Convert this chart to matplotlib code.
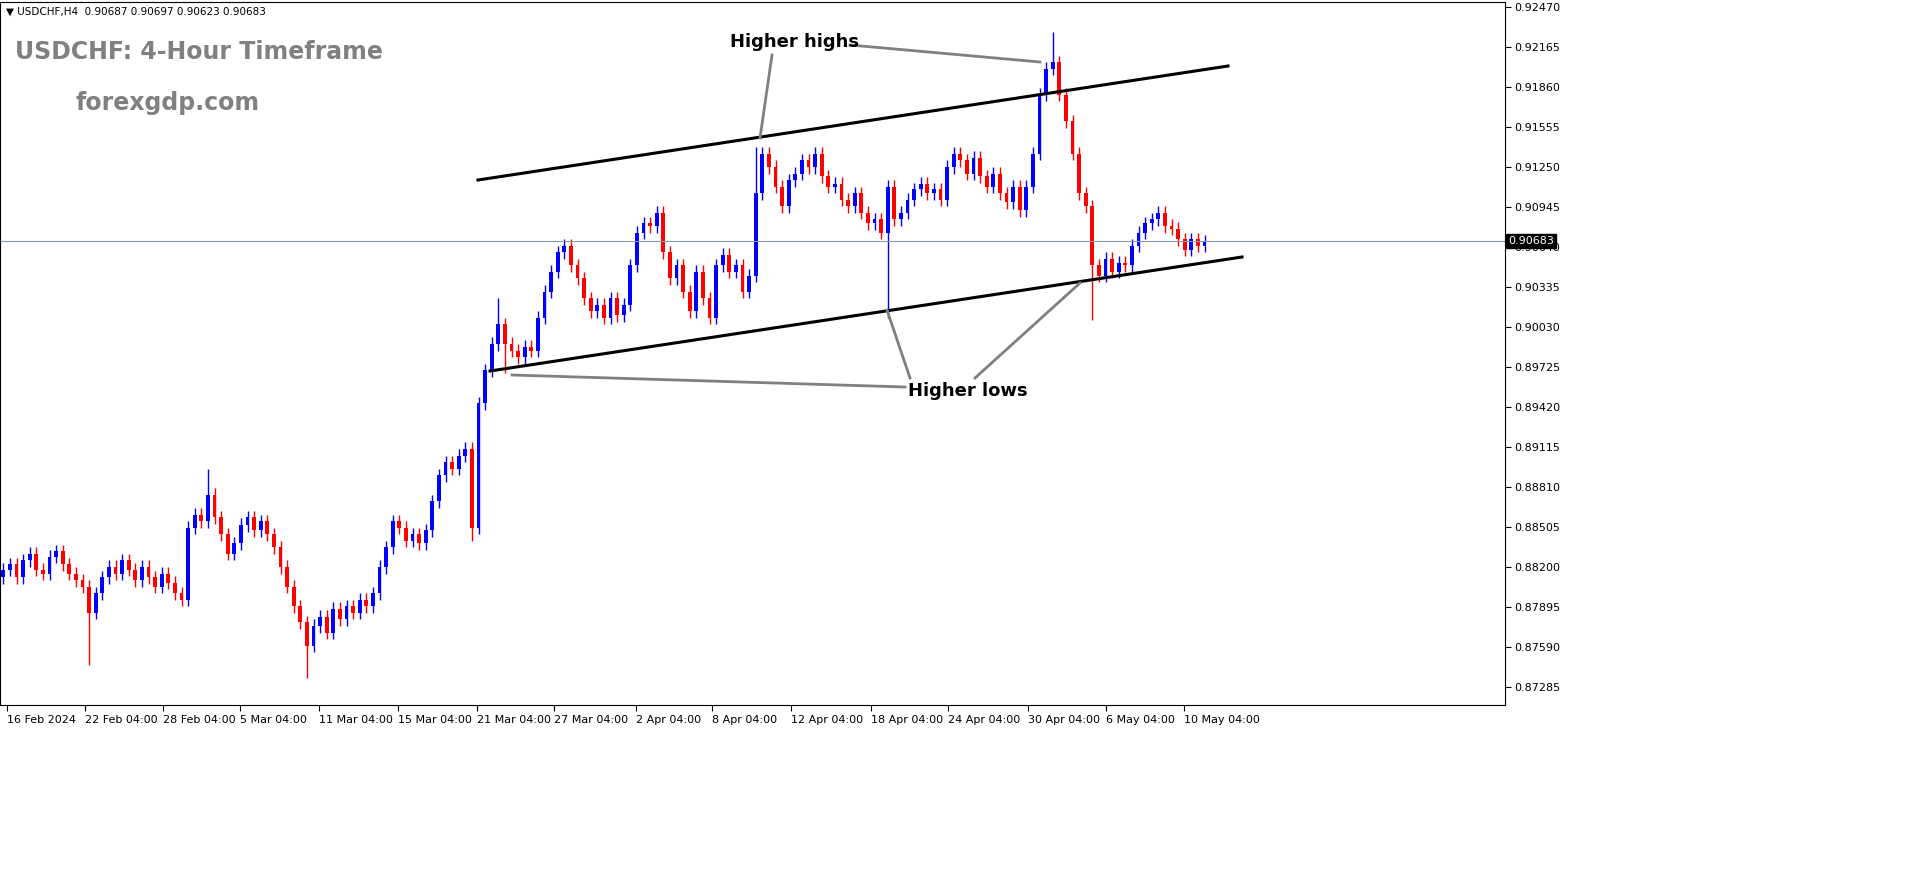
import matplotlib
matplotlib.use("Agg")
import matplotlib.pyplot as plt
from matplotlib.patches import Rectangle

closes = [0.8818,0.8822,0.8812,0.8825,0.8830,0.8818,0.8815,0.8828,0.8832,0.8822,0.8815,0.8810,0.8805,
0.8785,0.8800,
0.8812,0.8820,0.8815,0.8825,0.8818,0.8810,0.8820,0.8812,0.8805,0.8815,0.8808,0.8800,0.8795,
0.8850,0.8860,0.8855,0.8875,0.8858,
0.8845,0.8830,0.8838,
0.8852,0.8858,0.8848,0.8855,0.8845,
0.8835,0.8820,0.8805,0.8790,0.8778,0.8760,
0.8775,0.8782,0.8770,0.8788,0.8780,0.8790,0.8785,0.8795,0.8790,0.8800,
0.8820,0.8835,0.8855,
0.8850,0.8840,0.8845,0.8838,0.8848,
0.8870,0.8890,0.8900,
0.8895,0.8905,0.8910,
0.8850,
0.8945,0.8970,
0.8990,0.9005,
0.8990,0.8985,0.8980,0.8988,0.8985,
0.9010,0.9030,0.9045,0.9060,0.9065,
0.9050,0.9040,0.9025,
0.9015,0.9020,0.9010,0.9025,0.9012,0.9020,
0.9050,0.9075,0.9082,0.9080,0.9090,
0.9060,0.9040,0.9050,0.9030,0.9015,
0.9045,0.9025,0.9010,
0.9050,0.9058,0.9045,0.9050,0.9030,0.9042,
0.9105,0.9135,
0.9125,0.9110,0.9095,0.9115,0.9120,
0.9130,0.9125,0.9135,0.9118,0.9110,
0.9112,0.9100,0.9095,0.9105,0.9090,0.9082,
0.9085,0.9075,0.9110,
0.9085,0.9090,0.9100,0.9108,0.9112,0.9105,0.9108,
0.9100,0.9125,0.9135,0.9130,0.9120,0.9132,0.9118,0.9110,0.9120,
0.9105,0.9098,0.9110,0.9092,
0.9110,0.9135,0.9180,0.9200,0.9205,
0.9180,0.9160,0.9135,0.9105,0.9095,
0.9050,0.9042,0.9055,
0.9045,0.9052,0.9050,0.9065,
0.9075,0.9082,0.9085,0.9090,0.9080,
0.9078,0.9070,0.9062,0.9070,0.9065,0.9068]
first_open = 0.8812
wick = 0.0005
low_spikes = {13: 0.8745, 46: 0.8735, 71: 0.8840, 134: 0.9010, 165: 0.9008, 76: 0.8968}
high_spikes = {31: 0.8895, 159: 0.9228, 75: 0.9025, 114: 0.9140}

price_ticks = [0.92470,0.92165,0.91860,0.91555,0.91250,0.90945,0.90640,0.90335,0.90030,
               0.89725,0.89420,0.89115,0.88810,0.88505,0.88200,0.87895,0.87590,0.87285]
date_labels = ["16 Feb 2024","22 Feb 04:00","28 Feb 04:00","5 Mar 04:00","11 Mar 04:00",
               "15 Mar 04:00","21 Mar 04:00","27 Mar 04:00","2 Apr 04:00","8 Apr 04:00",
               "12 Apr 04:00","18 Apr 04:00","24 Apr 04:00","30 Apr 04:00","6 May 04:00","10 May 04:00"]
date_pos = [0.6,12.4,24.2,35.9,47.9,59.8,71.7,83.5,95.8,107.4,119.4,131.4,143.2,155.2,167.1,178.9]
last_price = 0.90683

W, H = 1914, 884
fig = plt.figure(figsize=(W/100, H/100), dpi=100)
ax = fig.add_axes([0, (884-705)/H, 1505/W, 703/H])
PX = 6.6
ax.set_xlim(-0.5, 1505/PX - 0.5)
ytop = 0.92470 + 5*0.00007625
ybot = 0.92470 - 698*0.00007625
ax.set_ylim(ybot, ytop)

def px2x(px): return px/PX - 0.5
def px2y(py): return 0.92470 - (py-7)*0.00007625

prev = first_open
for i, c in enumerate(closes):
    o = prev
    col = "#0000ff" if c >= o else "#ff0000"
    hi = high_spikes.get(i, max(o, c) + wick)
    lo = low_spikes.get(i, min(o, c) - wick)
    ax.vlines(i, lo, hi, color=col, lw=1)
    ax.add_patch(Rectangle((i-0.3, min(o, c)), 0.6, max(abs(c-o), 0.00003), color=col, lw=0))
    prev = c

ax.axhline(last_price, color="#8a9aa8", lw=0.8)
ax.plot([px2x(478), px2x(1228)], [px2y(180), px2y(66)], color="black", lw=2.2)
ax.plot([px2x(490), px2x(1242)], [px2y(371), px2y(257)], color="black", lw=2.2)

g = "#808080"
for (a, b) in [((772, 55), (760, 138)), ((850, 45), (1040, 62)),
               ((905, 387), (512, 375)), ((910, 378), (887, 310)), ((975, 378), (1080, 283))]:
    ax.plot([px2x(a[0]), px2x(b[0])], [px2y(a[1]), px2y(b[1])], color=g, lw=2)
ax.text(px2x(730), px2y(42), "Higher highs", fontsize=13, fontweight="bold", va="center", ha="left")
ax.text(px2x(908), px2y(391), "Higher lows", fontsize=13, fontweight="bold", va="center", ha="left")

ax.yaxis.tick_right()
ax.set_yticks(price_ticks)
ax.set_yticklabels([f"{p:.5f}" for p in price_ticks], fontsize=8)
ax.set_xticks(date_pos)
ax.set_xticklabels(date_labels, fontsize=8, ha="left")
ax.tick_params(axis="both", length=4, width=0.8, pad=3)
for s in ax.spines.values():
    s.set_linewidth(0.8)

ax.text(1.002, (last_price-ybot)/(ytop-ybot), f"{last_price:.5f}", transform=ax.transAxes,
        fontsize=8, color="white", va="center", ha="left",
        bbox=dict(facecolor="black", edgecolor="black", pad=1.5))

fig.text(6/W, 1-12/H, "\u25bc USDCHF,H4  0.90687 0.90697 0.90623 0.90683", fontsize=7.5, va="center")
fig.text(15/W, 1-52/H, "USDCHF: 4-Hour Timeframe", fontsize=17, fontweight="bold", color="#808080", va="center")
fig.text(75/W, 1-103/H, "forexgdp.com", fontsize=17, fontweight="bold", color="#808080", va="center")

fig.savefig("out.png", dpi=100)
